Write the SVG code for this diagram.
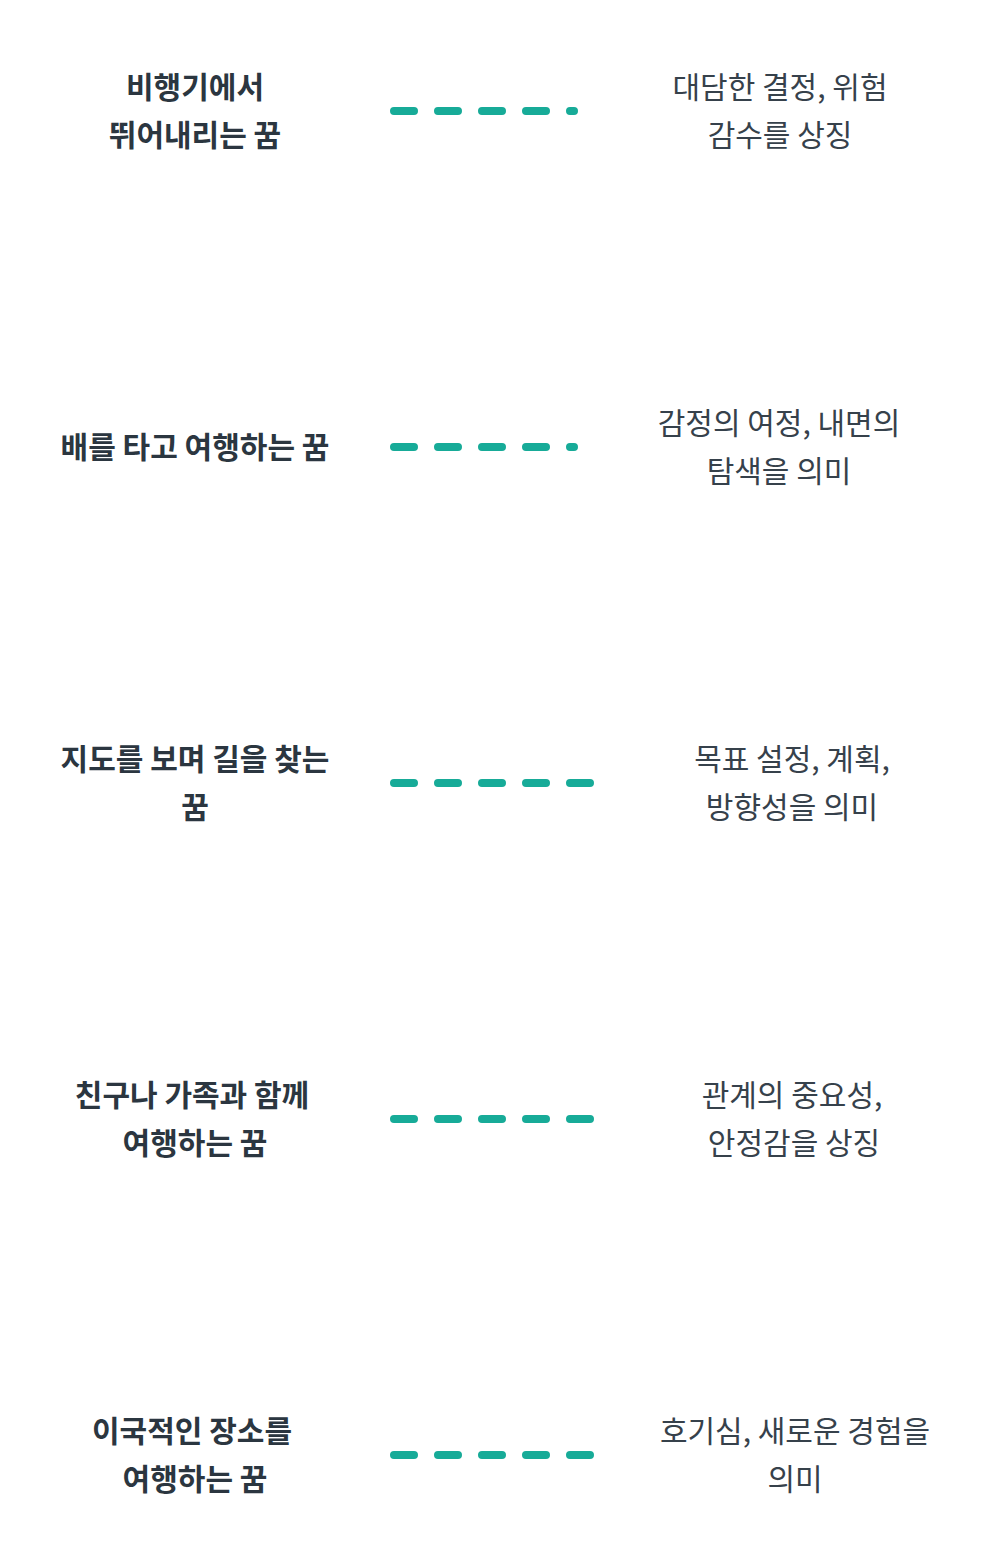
<svg xmlns="http://www.w3.org/2000/svg" width="992" height="1568" viewBox="0 0 992 1568">
<style>
.l{font-family:"Noto Sans CJK KR","Noto Sans",sans-serif;font-weight:700;font-size:30px;fill:#2b3640;text-anchor:middle}
.r{font-family:"Noto Sans CJK KR","Noto Sans",sans-serif;font-weight:400;font-size:30px;fill:#36414b;text-anchor:middle}
.c{stroke:#17ab98;stroke-width:8;stroke-linecap:round;stroke-dasharray:20 24;fill:none}
</style>
<rect width="992" height="1568" fill="#fff"/>
<g id="connectors">
<line class="c" x1="394" y1="111" x2="574" y2="111"/>
<line class="c" x1="394" y1="447" x2="574" y2="447"/>
<line class="c" x1="394" y1="783" x2="591" y2="783"/>
<line class="c" x1="394" y1="1119" x2="591" y2="1119"/>
<line class="c" x1="394" y1="1455" x2="591" y2="1455"/>
</g>
<g id="n1"><text class="l" x="195" y="98">비행기에서</text><text class="l" x="195" y="146">뛰어내리는 꿈</text></g>
<g id="d1"><text class="r" x="780" y="98">대담한 결정, 위험</text><text class="r" x="780" y="146">감수를 상징</text></g>
<g id="n2"><text class="l" x="195" y="458">배를 타고 여행하는 꿈</text></g>
<g id="d2"><text class="r" x="779" y="434">감정의 여정, 내면의</text><text class="r" x="779" y="482">탐색을 의미</text></g>
<g id="n3"><text class="l" x="195" y="770">지도를 보며 길을 찾는</text><text class="l" x="195" y="818">꿈</text></g>
<g id="d3"><text class="r" x="792" y="770">목표 설정, 계획,</text><text class="r" x="792" y="818">방향성을 의미</text></g>
<g id="n4"><text class="l" x="192" y="1106">친구나 가족과 함께</text><text class="l" x="195" y="1154">여행하는 꿈</text></g>
<g id="d4"><text class="r" x="792" y="1106">관계의 중요성,</text><text class="r" x="794" y="1154">안정감을 상징</text></g>
<g id="n5"><text class="l" x="192" y="1442">이국적인 장소를</text><text class="l" x="195" y="1490">여행하는 꿈</text></g>
<g id="d5"><text class="r" x="795" y="1442">호기심, 새로운 경험을</text><text class="r" x="795" y="1490">의미</text></g>
</svg>
